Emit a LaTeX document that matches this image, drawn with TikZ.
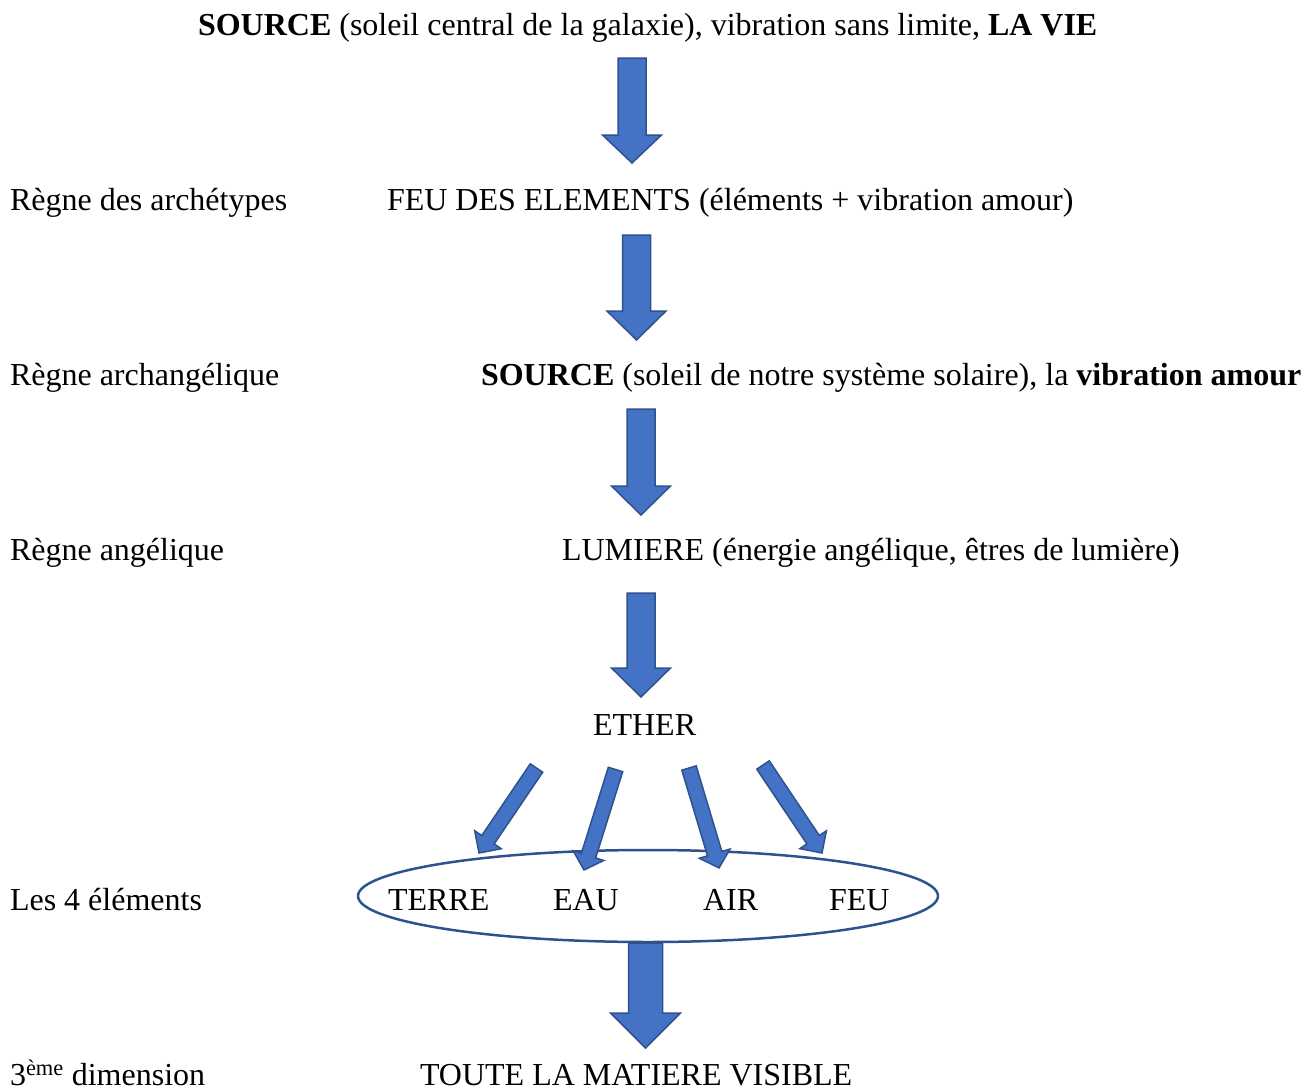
\documentclass[tikz,border=0pt]{standalone}
\usepackage{fontspec}
\setmainfont{Liberation Serif}
\usetikzlibrary{calc}
\definecolor{arrowblue}{HTML}{4472C4}
\definecolor{arrowedge}{HTML}{2F528F}
\tikzset{
  txt/.style={anchor=base west, inner sep=0pt, outer sep=0pt, font=\fontsize{32}{36}\selectfont},
  blockarrow/.style={fill=arrowblue, draw=arrowedge, line width=1.5pt, line join=miter},
  ring/.style={draw=arrowedge, line width=2.5pt}
}
% tail, tip, half shaft width, half head width, head length (all in pt)
\newcommand\blockarr[5]{%
  \coordinate (hb) at ($(#2)!#5pt!(#1)$);
  \path[blockarrow] ($(#1)!#3pt!90:(#2)$) -- ($(hb)!#3pt!90:(#2)$) -- ($(hb)!#4pt!90:(#2)$) -- (#2)
    -- ($(hb)!#4pt!-90:(#2)$) -- ($(hb)!#3pt!-90:(#2)$) -- ($(#1)!#3pt!-90:(#2)$) -- cycle;
}
\begin{document}
\begin{tikzpicture}[x=1pt,y=-1pt]
\useasboundingbox (0,0) rectangle (1310,1092);
% texts
\node[txt] (top) at (198,35) {\textbf{SOURCE} (soleil central de la galaxie), vibration sans limite, \textbf{LA VIE}};
\node[txt] (l1) at (10,210) {Règne des archétypes};
\node[txt] (feu) at (387,210) {FEU DES ELEMENTS (éléments + vibration amour)};
\node[txt] (l2) at (10,385) {Règne archangélique};
\node[txt] (src) at (481,385) {\textbf{SOURCE} (soleil de notre système solaire), la \textbf{vibration amour}};
\node[txt] (l3) at (10,560) {Règne angélique};
\node[txt] (lum) at (562,560) {LUMIERE (énergie angélique, êtres de lumière)};
\node[txt] (ether) at (593,735) {ETHER};
\node[txt] (l4) at (10,910) {Les 4 éléments};
\node[txt] (terre) at (388,910) {TERRE};
\node[txt] (eau) at (553,910) {EAU};
\node[txt] (air) at (703,910) {AIR};
\node[txt] (feu4) at (829,910) {FEU};
\node[txt] (l5) at (10,1085) {3\textsuperscript{ème} dimension};
\node[txt] (mat) at (420,1085) {TOUTE LA MATIERE VISIBLE};
% ellipse
\draw[ring] (648,896) ellipse [x radius=290, y radius=46];
% arrow end points
\coordinate (a1s) at (632,58);  \coordinate (a1e) at (632,163);
\coordinate (a2s) at (636.5,235); \coordinate (a2e) at (636.5,340);
\coordinate (a3s) at (641,409); \coordinate (a3e) at (641,515);
\coordinate (a4s) at (641,593); \coordinate (a4e) at (641,697);
\coordinate (a5s) at (645.5,943); \coordinate (a5e) at (645.5,1048);
\coordinate (d1s) at (536.5,768); \coordinate (d1e) at (479,853);
\coordinate (d2s) at (615.5,769.5); \coordinate (d2e) at (584,870);
\coordinate (d3s) at (689,768); \coordinate (d3e) at (719,868);
\coordinate (d4s) at (763,765); \coordinate (d4e) at (822,853);
% vertical block arrows
\blockarr{a1s}{a1e}{14}{29.5}{28}
\blockarr{a2s}{a2e}{14}{29.5}{29}
\blockarr{a3s}{a3e}{14}{29.5}{29}
\blockarr{a4s}{a4e}{14}{29.5}{29}
\blockarr{a5s}{a5e}{17}{35}{35}
% diagonal arrows
\blockarr{d1s}{d1e}{7.5}{16}{16}
\blockarr{d2s}{d2e}{7.5}{16}{15}
\blockarr{d3s}{d3e}{7.5}{16}{15}
\blockarr{d4s}{d4e}{7.5}{16}{16}
\end{tikzpicture}
\end{document}
